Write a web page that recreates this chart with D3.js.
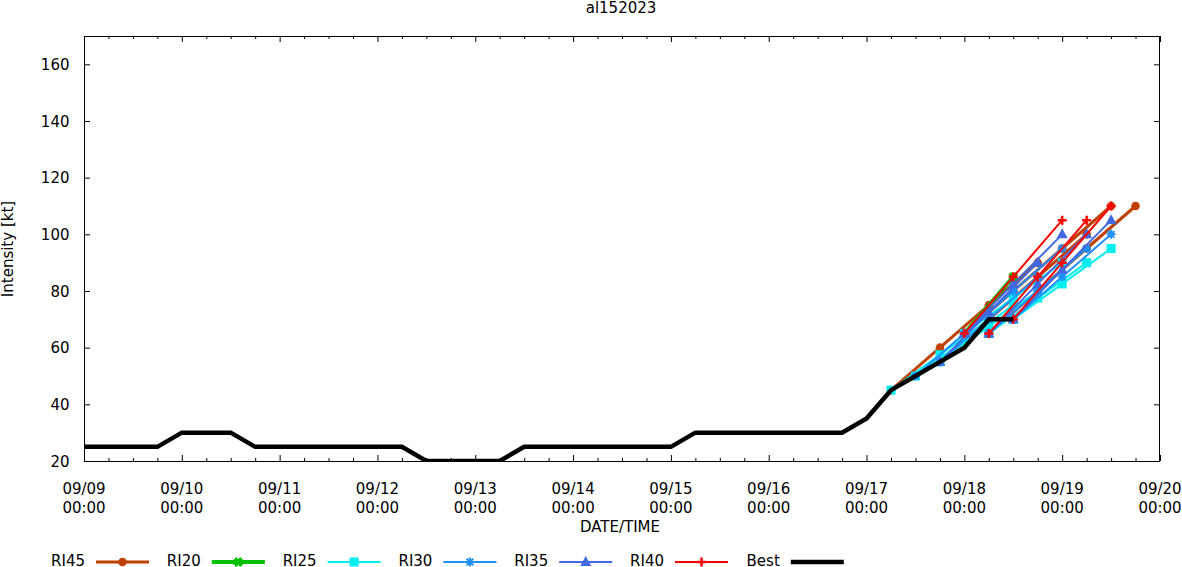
<!DOCTYPE html>
<html>
<head>
<meta charset="utf-8">
<script src="https://cdn.jsdelivr.net/npm/d3@7"></script>
<style>
html,body{margin:0;padding:0;background:#fff;}
svg{display:block;font-family:"DejaVu Sans",sans-serif;}
</style>
</head>
<body>
<svg id="chart" width="1182" height="567"></svg>
<script>
// ---------- data ----------
const title = "al152023";
const xLabel = "DATE/TIME";
const yLabel = "Intensity [kt]";
const yTicks = [20, 40, 60, 80, 100, 120, 140, 160];
const xTickDays = ["09/09","09/10","09/11","09/12","09/13","09/14","09/15","09/16","09/17","09/18","09/19","09/20"];

const bestTimes = ["09/09 00","09/09 18","09/10 00","09/10 12","09/10 18","09/12 06","09/12 12",
  "09/13 06","09/13 12","09/15 00","09/15 06","09/16 18","09/17 00","09/17 06","09/17 12",
  "09/17 18","09/18 00","09/18 06","09/18 12"];
const bestValues = [25,25,30,30,25,25,20,20,25,25,30,30,35,45,50,55,60,70,70];

// forecast initial times; each series gives values every 12 h from the initial time (null = not shown)
const initTimes = ["09/17 06","09/17 12","09/17 18","09/18 00","09/18 06","09/18 12"];
const ri45Values = [[45,60,75,90], null, [55,70,85,100], [65,80,95,110], [65,80,95,110], null];
const ri20Values = [null, null, null, [65,85], null, null];
const ri25Values = [[45,57.5,70], [50,62.5,75], [55,67.5,80], [65,77.5,90], [65,77.5,90], [70,82.5,95]];
const ri30Values = [null, [50,65,80], [55,70,85], [65,80,95], [65,80,95], [70,85,100]];
const ri35Values = [null, null, [55,72.5,90], [65,82.5,100], [65,82.5,100], [70,87.5,105]];
const ri40Values = [null, null, null, [65,85,105], [65,85,105], [70,90,110]];

const seriesNames = ["RI45","RI20","RI25","RI30","RI35","RI40","Best"];

// ---------- styles ----------
const styles = {
  RI45:{color:"#c04000", width:3,   marker:"circle"},
  RI20:{color:"#00c000", width:4,   marker:"x"},
  RI25:{color:"#00eeee", width:2,   marker:"square"},
  RI30:{color:"#1e90ff", width:2,   marker:"star"},
  RI35:{color:"#4169e1", width:2,   marker:"triangle"},
  RI40:{color:"#ff0000", width:2,   marker:"plus"},
  Best:{color:"#000000", width:4.5, marker:null}
};
const seriesData = {RI45:ri45Values, RI20:ri20Values, RI25:ri25Values, RI30:ri30Values, RI35:ri35Values, RI40:ri40Values};

const parse = d3.utcParse("%Y/%m/%d %H");
const toDate = s => parse("2023/" + s);
const H12 = 12*3600*1000;

const svg = d3.select("#chart");
const M = {left:84, right:1160, top:36, bottom:461};

const x = d3.scaleUtc().domain([toDate("09/09 00"), toDate("09/20 00")]).range([M.left, M.right]);
const y = d3.scaleLinear().domain([20,170]).range([M.bottom, M.top]);

svg.append("defs").append("clipPath").attr("id","clip")
  .append("rect").attr("x",M.left).attr("y",M.top).attr("width",M.right-M.left).attr("height",M.bottom-M.top);

// ---------- axes ----------
const majorTicks = xTickDays.map(d => toDate(d + " 00"));
const minorTicks = d3.utcHour.every(6).range(x.domain()[0], x.domain()[1]).filter(d => d.getUTCHours() !== 0);

svg.append("g").attr("transform",`translate(0,${M.bottom})`)
  .call(d3.axisBottom(x).tickValues(majorTicks).tickSize(-6).tickSizeOuter(0).tickFormat(""))
  .select(".domain").remove();
svg.append("g").attr("transform",`translate(0,${M.bottom})`)
  .call(d3.axisBottom(x).tickValues(minorTicks).tickSize(-3).tickSizeOuter(0).tickFormat(""))
  .select(".domain").remove();
svg.append("g").attr("transform",`translate(0,${M.top})`)
  .call(d3.axisTop(x).tickValues(majorTicks).tickSize(-6).tickSizeOuter(0).tickFormat(""))
  .select(".domain").remove();
svg.append("g").attr("transform",`translate(0,${M.top})`)
  .call(d3.axisTop(x).tickValues(minorTicks).tickSize(-3).tickSizeOuter(0).tickFormat(""))
  .select(".domain").remove();
svg.append("g").attr("transform",`translate(${M.left},0)`)
  .call(d3.axisLeft(y).tickValues(yTicks).tickSize(-6).tickSizeOuter(0).tickFormat(""))
  .select(".domain").remove();
svg.append("g").attr("transform",`translate(${M.right},0)`)
  .call(d3.axisRight(y).tickValues(yTicks).tickSize(-6).tickSizeOuter(0).tickFormat(""))
  .select(".domain").remove();
svg.selectAll(".tick line").attr("stroke","#000").attr("stroke-width",1);

// tick labels
const fmtDay = d3.utcFormat("%m/%d"), fmtTime = d3.utcFormat("%H:%M");
const xl = svg.append("g").attr("font-size","15px").attr("fill","#000").attr("text-anchor","middle");
majorTicks.forEach(d => {
  const t = xl.append("text").attr("x", x(d)).attr("y", 494);
  t.append("tspan").attr("x", x(d)).attr("y",494).text(fmtDay(d));
  t.append("tspan").attr("x", x(d)).attr("y",512.5).text(fmtTime(d));
});
const yl = svg.append("g").attr("font-size","15px").attr("fill","#000").attr("text-anchor","end");
yTicks.forEach(v => yl.append("text").attr("x",69.5).attr("y", y(v)+5.5).text(v));

// frame
svg.append("rect").attr("x",M.left+0.5).attr("y",M.top+0.5)
  .attr("width",M.right-M.left-1).attr("height",M.bottom-M.top)
  .attr("fill","none").attr("stroke","#000").attr("stroke-width",1);

// titles
svg.append("text").attr("x",621).attr("y",13).attr("text-anchor","middle").attr("font-size","15px").text(title);
svg.append("text").attr("x",620).attr("y",532).attr("text-anchor","middle").attr("font-size","15px").text(xLabel);
svg.append("text").attr("transform","translate(13,249) rotate(-90)").attr("text-anchor","middle").attr("font-size","15px").text(yLabel);

// ---------- markers ----------
function drawMarker(g, type, cx, cy, color, lw){
  const s = 4.5;
  if(type === "circle"){
    g.append("circle").attr("cx",cx).attr("cy",cy).attr("r",4.3).attr("fill",color);
  } else if(type === "square"){
    g.append("rect").attr("x",cx-4.5).attr("y",cy-4.5).attr("width",9).attr("height",9).attr("fill",color);
  } else if(type === "triangle"){
    g.append("path").attr("d",`M${cx},${cy-6}L${cx+5.5},${cy+4}L${cx-5.5},${cy+4}Z`).attr("fill",color);
  } else if(type === "plus"){
    g.append("path").attr("d",`M${cx-s},${cy}H${cx+s}M${cx},${cy-s}V${cy+s}`).attr("stroke",color).attr("stroke-width",lw+0.5);
  } else if(type === "x"){
    g.append("path").attr("d",`M${cx-3.5},${cy-3.5}L${cx+3.5},${cy+3.5}M${cx-3.5},${cy+3.5}L${cx+3.5},${cy-3.5}`).attr("stroke",color).attr("stroke-width",lw);
  } else if(type === "star"){
    g.append("path").attr("d",`M${cx-s},${cy}H${cx+s}M${cx},${cy-s}V${cy+s}M${cx-3.3},${cy-3.3}L${cx+3.3},${cy+3.3}M${cx-3.3},${cy+3.3}L${cx+3.3},${cy-3.3}`).attr("stroke",color).attr("stroke-width",lw);
  }
}

// ---------- plot ----------
const plot = svg.append("g").attr("clip-path","url(#clip)");
const line = d3.line().x(d => x(d[0])).y(d => y(d[1]));

seriesNames.forEach(name => {
  const st = styles[name];
  const g = plot.append("g");
  if(name === "Best"){
    const pts = bestTimes.map((t,i) => [toDate(t), bestValues[i]]);
    g.append("path").attr("d", line(pts)).attr("fill","none").attr("stroke",st.color)
      .attr("stroke-width",st.width).attr("stroke-linejoin","miter");
    return;
  }
  const arr = seriesData[name];
  arr.forEach((vals, k) => {
    if(!vals) return;
    const t0 = toDate(initTimes[k]);
    const pts = vals.map((v,i) => [new Date(t0.getTime() + i*H12), v]);
    g.append("path").attr("d", line(pts)).attr("fill","none").attr("stroke",st.color).attr("stroke-width",st.width);
    pts.forEach(p => drawMarker(g, st.marker, x(p[0]), y(p[1]), st.color, st.width));
  });
});

// ---------- legend ----------
const leg = svg.append("g");
seriesNames.forEach((name, i) => {
  const st = styles[name];
  const off = 115.8*i;
  leg.append("text").attr("x", 85 + off).attr("y", 565.5).attr("text-anchor","end").attr("font-size","15px").text(name);
  leg.append("line").attr("x1", 96 + off).attr("x2", 149 + off).attr("y1", 562).attr("y2", 562)
    .attr("stroke", st.color).attr("stroke-width", st.width);
  if(st.marker) drawMarker(leg, st.marker, 122.5 + off, 562, st.color, st.width);
});
</script>
</body>
</html>
